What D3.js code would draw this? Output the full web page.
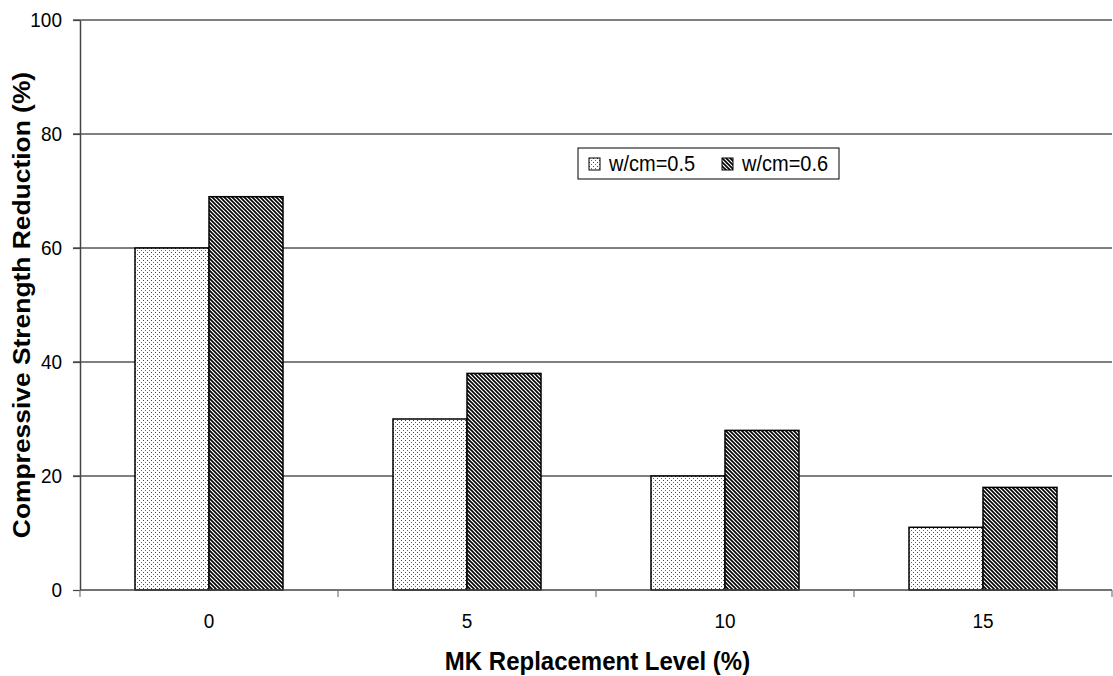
<!DOCTYPE html>
<html>
<head>
<meta charset="utf-8">
<script src="https://cdn.jsdelivr.net/npm/d3@7"></script>
<style>
  html, body { margin: 0; padding: 0; background: #fff; }
  svg { display: block; font-family: Arial, "Liberation Sans", sans-serif; }
</style>
</head>
<body>
<svg id="chart" width="1113" height="676"></svg>
<script>
// MK replacement levels and strength reduction per w/cm ratio
const categories = ["0", "5", "10", "15"];
const seriesNames = ["w/cm=0.5", "w/cm=0.6"];
const wcm05 = [60, 30, 20, 11];
const wcm06 = [69, 38, 28, 18];
const yTicks = [0, 20, 40, 60, 80, 100];

const svg = d3.select("#chart");
const margin = { left: 80, right: 1, top: 20, bottom: 86 };
const W = 1113, H = 676;
const STRETCH = 1.1; // text is drawn slightly taller than wide

const defs = svg.append("defs");
// sparse dot fill
const dots = defs.append("pattern").attr("id", "pat-dots")
  .attr("patternUnits", "userSpaceOnUse").attr("width", 4).attr("height", 4);
dots.append("rect").attr("width", 4).attr("height", 4).attr("fill", "#fff");
dots.append("rect").attr("x", 0).attr("y", 0).attr("width", 1).attr("height", 1).attr("fill", "#444");
dots.append("rect").attr("x", 2).attr("y", 2).attr("width", 1).attr("height", 1).attr("fill", "#666");
// dense diagonal hatch
const hatch = defs.append("pattern").attr("id", "pat-hatch")
  .attr("patternUnits", "userSpaceOnUse").attr("width", 4).attr("height", 4);
hatch.append("rect").attr("width", 4).attr("height", 4).attr("fill", "#fff");
hatch.append("path").attr("d", "M-1,-1 L5,5 M-1,3 L1,5 M3,-1 L5,1")
  .attr("stroke", "#000").attr("stroke-width", 1.6);

const fills = ["url(#pat-dots)", "url(#pat-hatch)"];

const x = d3.scaleBand().domain(categories).range([margin.left, W - margin.right]);
const x1 = d3.scaleBand().domain(seriesNames).range([0, 148]);
const y = d3.scaleLinear().domain([0, 100]).range([H - margin.bottom, margin.top]);

// horizontal gridlines
svg.append("g").selectAll("line").data(yTicks.filter(d => d > 0)).join("line")
  .attr("x1", margin.left - 7).attr("x2", W - margin.right)
  .attr("y1", d => y(d)).attr("y2", d => y(d))
  .attr("stroke", "#000").attr("stroke-width", 1);

// bars
const data = categories.map((c, i) => ({ c, vals: [wcm05[i], wcm06[i]] }));
const groups = svg.append("g").selectAll("g").data(data).join("g")
  .attr("transform", d => `translate(${x(d.c) + (x.bandwidth() - 148) / 2},0)`);
groups.selectAll("rect").data(d => d.vals.map((v, j) => ({ v, s: seriesNames[j], j }))).join("rect")
  .attr("x", d => x1(d.s))
  .attr("width", x1.bandwidth())
  .attr("y", d => y(d.v))
  .attr("height", d => y(0) - y(d.v))
  .attr("fill", d => fills[d.j])
  .attr("stroke", "#000").attr("stroke-width", 1.5);

// y axis
const yAxis = svg.append("g").attr("transform", `translate(${margin.left},0)`)
  .call(d3.axisLeft(y).tickValues(yTicks).tickSize(7).tickPadding(11).tickSizeOuter(0));
yAxis.select(".domain").attr("stroke", "#444").attr("stroke-width", 1.5);
yAxis.selectAll(".tick line").attr("stroke", "#444").attr("stroke-width", 1.2);
yAxis.selectAll("text").attr("font-size", 19).attr("fill", "#000")
  .attr("font-family", "Arial, 'Liberation Sans', sans-serif")
  .attr("transform", `scale(1,${STRETCH})`);

// x axis: ticks at band boundaries
const xAxisG = svg.append("g").attr("transform", `translate(0,${y(0)})`);
xAxisG.append("line").attr("x1", margin.left).attr("x2", W - margin.right)
  .attr("stroke", "#444").attr("stroke-width", 1.5);
const bounds = categories.map(c => x(c)).concat([x(categories[categories.length - 1]) + x.bandwidth()]);
xAxisG.selectAll("line.tk").data(bounds).join("line").attr("class", "tk")
  .attr("x1", d => d).attr("x2", d => d).attr("y1", 0).attr("y2", 7)
  .attr("stroke", "#777").attr("stroke-width", 1.2);
xAxisG.selectAll("text").data(categories).join("text")
  .attr("transform", d => `translate(${x(d) + x.bandwidth() / 2},38) scale(1,${STRETCH})`)
  .attr("text-anchor", "middle").attr("font-size", 19).text(d => d);

// axis titles
svg.append("text")
  .attr("transform", `translate(${(margin.left + W) / 2 + 1},670) scale(1,${STRETCH})`)
  .attr("text-anchor", "middle").attr("font-size", 24).attr("font-weight", "bold")
  .text("MK Replacement Level (%)");
svg.append("text")
  .attr("transform", `translate(30,${(y(0) + y(100)) / 2}) rotate(-90) scale(${STRETCH},1)`)
  .attr("text-anchor", "middle").attr("font-size", 24).attr("font-weight", "bold")
  .text("Compressive Strength Reduction (%)");

// legend
const lg = svg.append("g").attr("transform", "translate(578,148)");
lg.append("rect").attr("width", 261).attr("height", 31).attr("fill", "#fff")
  .attr("stroke", "#000").attr("stroke-width", 1);
const items = lg.selectAll("g").data(seriesNames).join("g")
  .attr("transform", (d, i) => `translate(${[11, 144][i]},10)`);
items.append("rect").attr("width", 11).attr("height", 12)
  .attr("fill", (d, i) => fills[i]).attr("stroke", "#000").attr("stroke-width", 1);
items.append("text")
  .attr("transform", `translate(20,13) scale(1,${STRETCH})`)
  .attr("font-size", 20).text(d => d);
</script>
</body>
</html>
